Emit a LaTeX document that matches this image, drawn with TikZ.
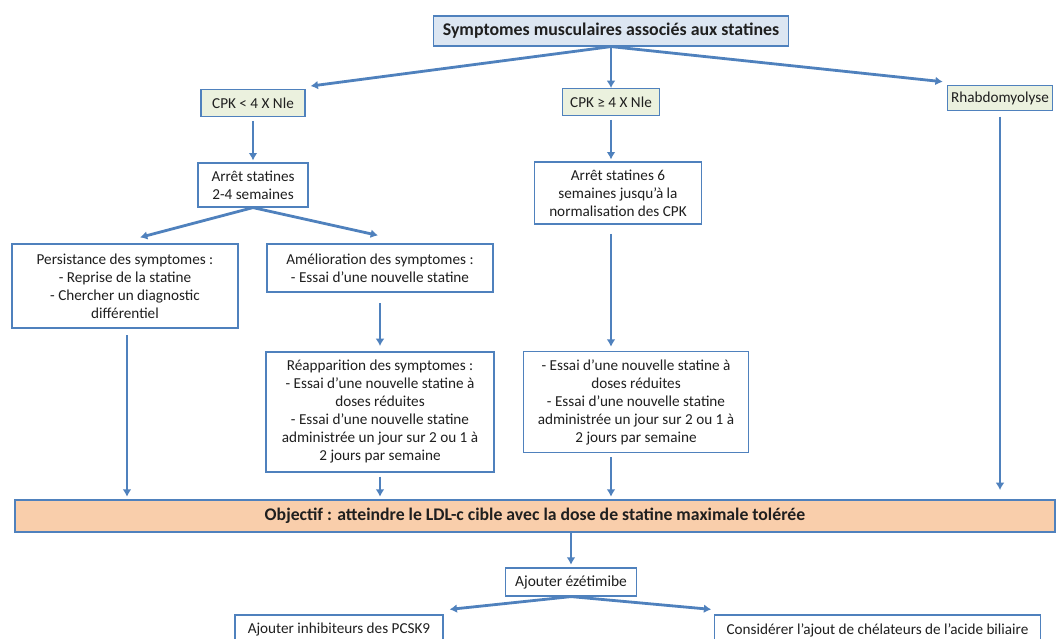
\documentclass[tikz,border=0pt]{standalone}
\usepackage{fontspec}
\setmainfont{Carlito}
\usepackage{xcolor}
\usetikzlibrary{arrows.meta,positioning,calc}
\definecolor{boxblue}{HTML}{4F81BD}
\definecolor{headfill}{HTML}{DCE6F2}
\definecolor{cpkfill}{HTML}{EBF1DE}
\definecolor{goalfill}{HTML}{F9CEAB}
\definecolor{txtgrey}{HTML}{1F1F1F}

\begin{document}
\begin{tikzpicture}[x=0.75pt,y=-0.75pt,font=\fontsize{11.4}{13.5}\selectfont,
    box/.style={draw=boxblue,line width=0.9pt,fill=white,align=center,text=txtgrey,inner sep=2pt},
    flow/.style={-{Latex[length=5.5pt,width=6.5pt]},boxblue,line width=2.1pt}]
        \useasboundingbox (0,0) rectangle (1057,639);
        \clip (0,0) rectangle (1057,639);
        \fill[white] (0,0) rectangle (1057,639);
        % top level
        \node[box,fill=headfill,font=\fontsize{13.4}{15}\selectfont\bfseries,minimum width=266pt,minimum height=22.5pt] (head) at (611,31) {Symptomes musculaires associés aux statines};
        \node[box,fill=cpkfill,minimum width=78pt,minimum height=20pt] (cpkA) at (253,103) {CPK < 4 X Nle};
        \node[box,fill=cpkfill,minimum width=73pt,minimum height=20pt] (cpkB) at (611,102) {CPK ≥ 4 X Nle};
        \node[box,fill=cpkfill,minimum width=79pt,minimum height=19pt] (rhabdo) at (1000,98) {Rhabdomyolyse};
        % left branch
        \node[box,minimum width=82.5pt,minimum height=33pt] (arretA) at (253,185) {Arrêt statines\\2-4 semaines};
        \node[box,minimum width=169.5pt,minimum height=63pt] (persist) at (125,286) {Persistance des symptomes :\\- Reprise de la statine\\- Chercher un diagnostic\\différentiel};
        \node[box,minimum width=169.5pt,minimum height=36pt] (amelio) at (380,268) {Amélioration des symptomes :\\- Essai d’une nouvelle statine};
        \node[box,minimum width=171pt,minimum height=90pt] (reapp) at (380,412) {Réapparition des symptomes :\\- Essai d’une nouvelle statine à\\doses réduites\\- Essai d’une nouvelle statine\\administrée un jour sur 2 ou 1 à\\2 jours par semaine};
        % middle branch
        \node[box,minimum width=125pt,minimum height=46.5pt] (arretB) at (618,193) {Arrêt statines 6\\semaines jusqu’à la\\normalisation des CPK};
        \node[box,minimum width=169pt,minimum height=76pt] (essai) at (636,402) {- Essai d’une nouvelle statine à\\doses réduites\\- Essai d’une nouvelle statine\\administrée un jour sur 2 ou 1 à\\2 jours par semaine};
        % goal and after
        \node[box,fill=goalfill,font=\fontsize{13.3}{15}\selectfont\bfseries,minimum width=780pt,minimum height=24pt] (goal) at (535,516) {Objectif : atteindre le LDL-c cible avec la dose de statine maximale tolérée};
        \node[box,font=\fontsize{11.6}{13}\selectfont,minimum width=98pt,minimum height=21pt] (ezet) at (571,582) {Ajouter ézétimibe};
        \node[box,minimum width=156pt,minimum height=22.5pt] (pcsk) at (339,630) {Ajouter inhibiteurs des PCSK9};
        \node[box,minimum width=244pt,minimum height=22.5pt] (chelat) at (877.5,630) {Considérer l’ajout de chélateurs de l’acide biliaire};
        % connectors
        \draw[flow] (head.south) -- ($(cpkA.north east)+(5,-3)$);
        \draw[flow] (head.south) -- (cpkB.north);
        \draw[flow] (head.south) -- ($(rhabdo.north west)+(-4,-3)$);
        \draw[flow,shorten <=3pt,shorten >=1.5pt] (cpkA) -- (arretA);
        \draw[flow] (arretA.south) -- ($(persist.north)+(15,-6)$);
        \draw[flow] (arretA.south) -- ($(amelio.north)+(-2,-8)$);
        \draw[flow,shorten <=8pt,shorten >=4pt] (amelio) -- (reapp);
        \draw[flow,shorten <=5pt,shorten >=2pt] (persist.south -| 127,0) -- (goal.north -| 127,0);
        \draw[flow,shorten <=3pt,shorten >=2pt] (reapp) -- (reapp.south |- goal.north);
        \draw[flow,shorten <=3pt,shorten >=1.5pt] (cpkB) -- (arretB.north -| cpkB.south);
        \draw[flow,shorten <=7pt,shorten >=3pt] (arretB.south -| cpkB.south) -- (essai.north -| cpkB.south);
        \draw[flow,shorten <=3pt,shorten >=2pt] (essai.south -| cpkB.south) -- (goal.north -| cpkB.south);
        \draw[flow,shorten <=4pt,shorten >=7pt] (rhabdo.south -| 1000,0) -- (goal.north -| 1000,0);
        \draw[flow,shorten >=2pt] (goal.south -| ezet.north) -- (ezet);
        \draw[flow] (ezet.south) -- ($(pcsk.north east)+(6,-5)$);
        \draw[flow] (ezet.south) -- ($(chelat.north west)+(-3,-5)$);
      \end{tikzpicture}
\end{document}
